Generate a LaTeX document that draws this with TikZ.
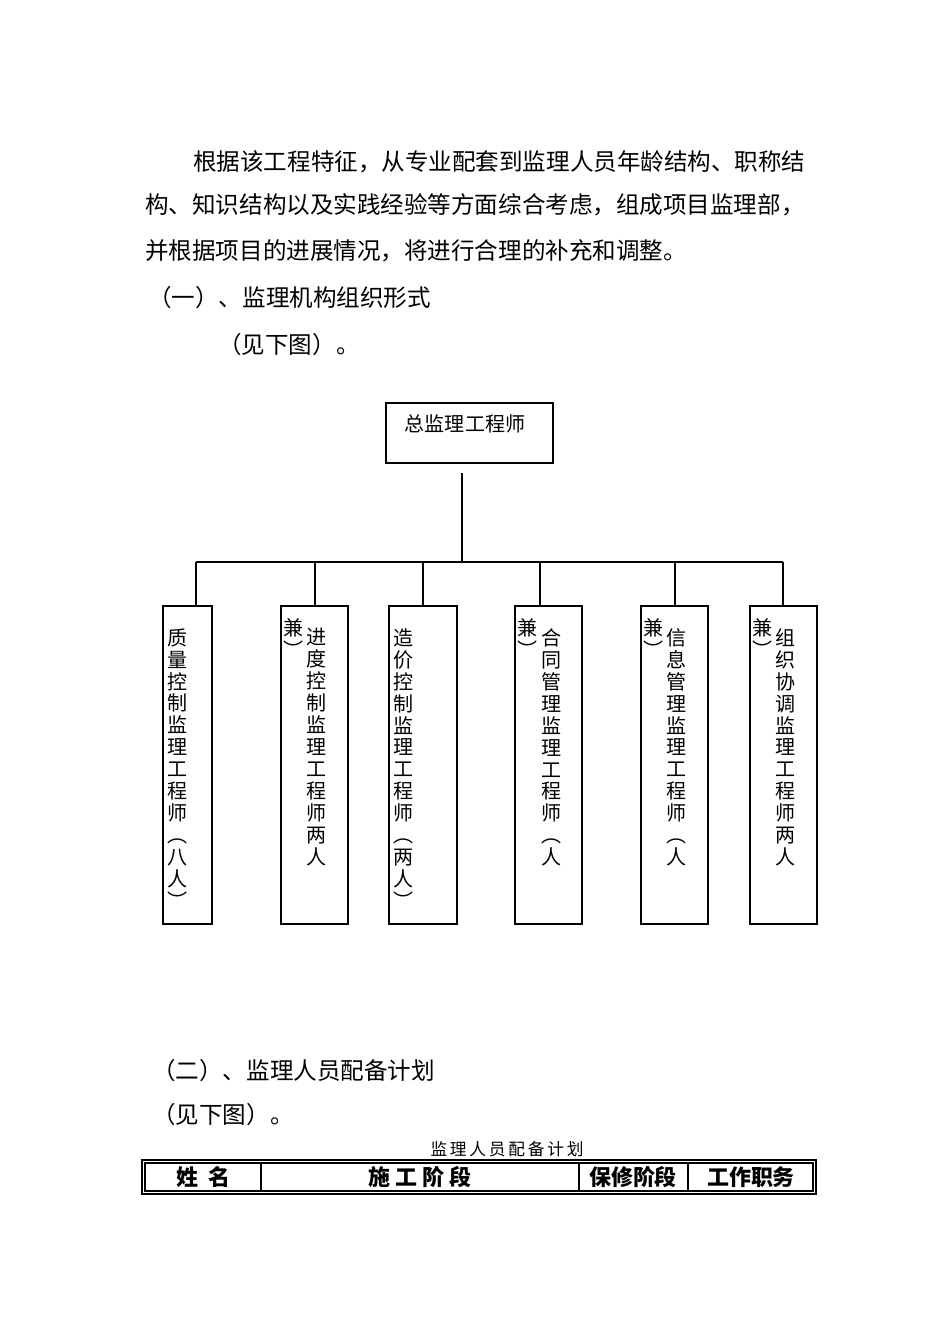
\documentclass[tikz,border=0pt]{standalone}
\usepackage{fontspec}
\setmainfont{Noto Sans CJK SC}
\usetikzlibrary{positioning}
\tikzset{
  para/.style={anchor=west,inner sep=0pt,font=\fontsize{13.4}{15}\selectfont},
  vtext/.style={anchor=north,inner sep=0pt,align=center,font=\fontsize{11.4}{12.5}\selectfont},
  head/.style={font=\bfseries\fontsize{12.5}{14}\selectfont}
}
\begin{document}
\begin{tikzpicture}[x=0.02cm,y=-0.02cm]
  \useasboundingbox (0,0) rectangle (950,1344);
  % intro text
  \node[para] (l1) at (193,162) {根据该工程特征，从专业配套到监理人员年龄结构、职称结};
  \node[para] (l2) at (145,205) {构、知识结构以及实践经验等方面综合考虑，组成项目监理部，};
  \node[para] (l3) at (145,251) {并根据项目的进展情况，将进行合理的补充和调整。};
  \node[para] (l4) at (148,298) {（一）、监理机构组织形式};
  \node[para] (l5) at (218,345) {（见下图）。};
  % chart
  \draw[line width=0.6pt] (386,403) rectangle (553,463);
  \node[font=\fontsize{11.4}{13}\selectfont] (chief) at (465,424) {总监理工程师};
  \coordinate (chiefb) at (462,473);
  \coordinate (bus) at (462,562);
  \coordinate (busL) at (196,562);
  \coordinate (busR) at (783,562);
  \draw[line width=0.6pt] (chiefb) -- (bus);
  \draw[line width=0.6pt] (busL) -- (busR);
  % posts
  \foreach \name/\xl/\xr/\xd in {p1/163/212/196,p2/281/348/315,p3/389/457/423,
                                 p4/515/582/540,p5/641/708/675,p6/750/817/783}{
    \draw[line width=0.6pt] (\xl,606) rectangle (\xr,924);
    \coordinate (\name) at (\xd,606);
    \draw[line width=0.6pt] (\xd,562) -- (\name);
  }
  \node[vtext] (t1) at (178,628) {质\\量\\控\\制\\监\\理\\工\\程\\师\\︵\\八\\人\\︶};
  \node[vtext] (t2) at (317,628) {进\\度\\控\\制\\监\\理\\工\\程\\师\\两\\人};
  \node[vtext] (t3) at (404,628) {造\\价\\控\\制\\监\\理\\工\\程\\师\\︵\\两\\人\\︶};
  \node[vtext] (t4) at (552,628) {合\\同\\管\\理\\监\\理\\工\\程\\师\\︵\\人};
  \node[vtext] (t5) at (677,628) {信\\息\\管\\理\\监\\理\\工\\程\\师\\︵\\人};
  \node[vtext] (t6) at (786,628) {组\\织\\协\\调\\监\\理\\工\\程\\师\\两\\人};
  \foreach \xj in {294,528,654,763}{
    \node[vtext] at (\xj,618) {兼\\︶};
  }
  % part two
  \node[para] (m1) at (152,1071) {（二）、监理人员配备计划};
  \node[para] (m2) at (152,1115) {（见下图）。};
  \node[font=\fontsize{9.5}{11}\selectfont] (cap) at (507,1149) {监\,理\,人\,员\,配\,备\,计\,划};
  \draw[line width=0.6pt] (142,1160) rectangle (816,1194);
  \draw[line width=0.6pt] (145,1163) rectangle (813,1191);
  \foreach \xs in {261,579,688}{
    \draw[line width=0.6pt] (\xs,1163) -- (\xs,1191);
  }
  \node[head] (c1) at (203,1177) {姓\ \ 名};
  \node[head] (c2) at (420,1177) {施\ 工\ 阶\ 段};
  \node[head] (c3) at (633,1177) {保修阶段};
  \node[head] (c4) at (751,1177) {工作职务};
\end{tikzpicture}
\end{document}
